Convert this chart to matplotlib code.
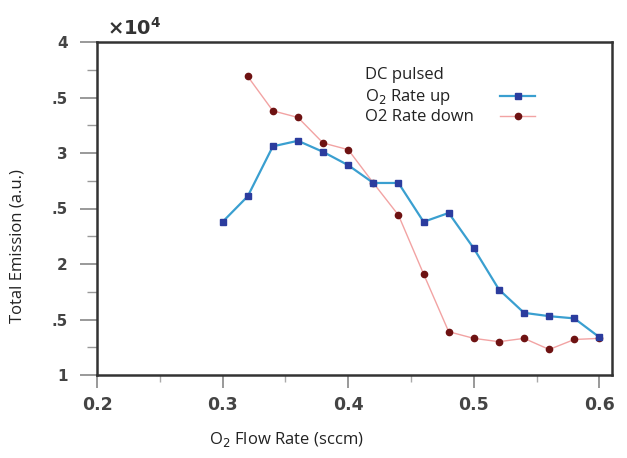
import matplotlib
matplotlib.use("Agg")
import matplotlib.pyplot as plt
from matplotlib.ticker import MultipleLocator, FixedLocator, FixedFormatter

# Data (values in units of 1e4)
flow_up = [0.30, 0.32, 0.34, 0.36, 0.38, 0.40, 0.42, 0.44, 0.46, 0.48, 0.50, 0.52, 0.54, 0.56, 0.58, 0.60]
emission_up = [2.38, 2.61, 3.06, 3.11, 3.01, 2.89, 2.73, 2.73, 2.38, 2.46, 2.14, 1.77, 1.56, 1.53, 1.51, 1.34]

flow_down = [0.32, 0.34, 0.36, 0.38, 0.40, 0.42, 0.44, 0.46, 0.48, 0.50, 0.52, 0.54, 0.56, 0.58, 0.60]
emission_down = [3.69, 3.38, 3.32, 3.09, 3.03, 2.73, 2.44, 1.91, 1.39, 1.33, 1.30, 1.33, 1.23, 1.32, 1.33]

y_ticks = [1, 1.5, 2, 2.5, 3, 3.5, 4]
y_tick_labels = ["1", ".5", "2", ".5", "3", ".5", "4"]
x_ticks = [0.2, 0.3, 0.4, 0.5, 0.6]
x_tick_labels = ["0.2", "0.3", "0.4", "0.5", "0.6"]

legend_title = "DC pulsed"
label_up = "O$_2$ Rate up"
label_down = "O2 Rate down"

fig = plt.figure(figsize=(6.27, 4.58), dpi=100)
ax = fig.add_axes([97/627, 1-375/458, 515/627, 333/458])

line_up, = ax.plot(flow_up, emission_up, color="#3a9fd0", lw=1.6, marker="s", ms=4,
                   mfc="#2b3c9e", mec="#2b3c9e", zorder=3)
line_down, = ax.plot(flow_down, emission_down, color="#f2a3a3", lw=1.0, marker="o", ms=4.5,
                     mfc="#6e1212", mec="#6e1212", zorder=2)

ax.set_xlim(0.2, 0.61)
ax.set_ylim(1, 4)

ax.yaxis.set_major_locator(FixedLocator(y_ticks))
ax.yaxis.set_major_formatter(FixedFormatter(y_tick_labels))
ax.yaxis.set_minor_locator(MultipleLocator(0.25))
ax.xaxis.set_major_locator(FixedLocator(x_ticks))
ax.xaxis.set_major_formatter(FixedFormatter(x_tick_labels))
ax.xaxis.set_minor_locator(MultipleLocator(0.05))

for s in ax.spines.values():
    s.set_linewidth(1.8)
    s.set_color("#333333")

ax.tick_params(axis="y", which="major", direction="out", length=12, width=1.2,
               color="#888888", pad=9, labelsize=11, labelcolor="#444444")
ax.tick_params(axis="y", which="minor", direction="out", length=7, width=1.0, color="#999999")
ax.tick_params(axis="x", which="major", direction="out", length=9, width=1.2,
               color="#888888", pad=6, labelsize=12.5, labelcolor="#444444")
ax.tick_params(axis="x", which="minor", direction="out", length=5, width=1.0, color="#aaaaaa")
for lab in ax.get_xticklabels() + ax.get_yticklabels():
    lab.set_fontweight("bold")
    lab.set_family("DejaVu Sans")

ax.set_xlabel("O$_2$ Flow Rate (sccm)", fontsize=12, family="Open Sans", color="#222222")
ax.xaxis.set_label_coords(0.368, -0.166)
ax.set_ylabel("Total Emission (a.u.)", fontsize=12, family="Open Sans", color="#222222")
ax.yaxis.set_label_coords(-0.139, 0.387)

ax.text(0.02, 1.01, r"$\mathbf{\times 10^4}$", transform=ax.transAxes, fontsize=14,
        color="#333333", va="bottom", ha="left")

# legend: texts left-aligned, handles aligned in a column on the right
txt_kw = dict(transform=ax.transAxes, fontsize=12, family="Open Sans",
              color="#222222", va="center", ha="left")
ax.text(0.52, 0.901, legend_title, **txt_kw)
ax.text(0.52, 0.835, label_up, **txt_kw)
ax.text(0.52, 0.775, label_down, **txt_kw)
leg_kw = dict(loc="center", frameon=False, handlelength=2.5, handletextpad=0,
              borderpad=0, borderaxespad=0, fontsize=10)
leg1 = ax.legend([line_up], [""], bbox_to_anchor=(0.817, 0.835), **leg_kw)
ax.add_artist(leg1)
leg2 = ax.legend([line_down], [""], bbox_to_anchor=(0.817, 0.775), **leg_kw)

fig.savefig("out.png", dpi=100, facecolor="white")
